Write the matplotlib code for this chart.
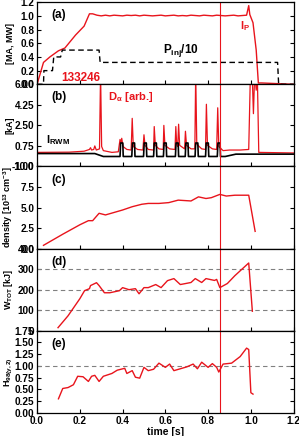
import numpy as np
import matplotlib
matplotlib.use("Agg")
import matplotlib.pyplot as plt

plt.rcParams["font.family"] = ["Liberation Sans", "DejaVu Sans"]
plt.rcParams["font.weight"] = "bold"
plt.rcParams["mathtext.fontset"] = "custom"
plt.rcParams["mathtext.rm"] = "Liberation Sans:bold"
plt.rcParams["mathtext.it"] = "Liberation Sans:bold:italic"
plt.rcParams["mathtext.bf"] = "Liberation Sans:bold"
plt.rcParams["mathtext.default"] = "bf"

RED = "#e8141c"
T_MARK = 0.855

# (a) plasma current and injected power / 10
ip_t = [0.0, 0.03, 0.06, 0.10, 0.13, 0.18, 0.22, 0.245, 0.26, 0.28, 0.30, 0.32,
        0.34, 0.36, 0.38, 0.40, 0.42, 0.44, 0.46, 0.48, 0.50, 0.52, 0.54, 0.56,
        0.58, 0.60, 0.62, 0.64, 0.66, 0.68, 0.70, 0.72, 0.74, 0.76, 0.78, 0.80,
        0.82, 0.84, 0.86, 0.88, 0.90, 0.92, 0.94, 0.96, 0.98, 0.99, 0.995, 1.01,
        1.025, 1.035, 1.05, 1.2]
ip_v = [0.0, 0.32, 0.40, 0.49, 0.53, 0.72, 0.85, 1.03, 1.03, 1.01, 1.0, 1.01,
        1.0, 1.01, 1.005, 1.0, 1.01, 1.005, 1.01, 1.0, 1.01, 1.005, 1.0, 1.005,
        1.01, 1.0, 1.005, 1.01, 1.0, 1.005, 1.0, 1.01, 1.005, 1.0, 1.01, 1.005,
        1.0, 1.01, 1.005, 1.0, 1.005, 1.01, 1.0, 1.005, 1.01, 1.15, 1.02, 0.90,
        0.50, 0.02, 0.02, 0.0]
pinj_t = [0.0, 0.03, 0.032, 0.072, 0.078, 0.11, 0.118, 0.29, 0.295, 1.125, 1.13, 1.2]
pinj_v = [0.0, 0.0, 0.2, 0.2, 0.4, 0.4, 0.5, 0.5, 0.32, 0.32, 0.0, 0.0]

# (b) D-alpha and RWM coil current
da_t = [0.0, 0.15, 0.22, 0.245, 0.25, 0.255, 0.265, 0.27, 0.277, 0.292, 0.297,
        0.302, 0.31, 0.35, 0.38, 0.388, 0.392, 0.396, 0.402, 0.42, 0.44, 0.445,
        0.45, 0.47, 0.495, 0.5, 0.505, 0.52, 0.545, 0.548, 0.553, 0.57, 0.59,
        0.593, 0.598, 0.62, 0.645, 0.649, 0.653, 0.658, 0.662, 0.667, 0.69,
        0.694, 0.699, 0.72, 0.738, 0.742, 0.747, 0.77, 0.788, 0.792, 0.797,
        0.82, 0.84, 0.845, 0.85, 0.87, 0.9, 0.95, 0.99, 0.998, 1.006, 1.012,
        1.018, 1.025, 1.03, 1.037, 1.2]
da_v = [0.2, 0.22, 0.3, 0.45, 0.6, 0.4, 0.45, 0.75, 0.4, 0.5, 7.0,
        0.7, 0.35, 0.2, 0.25, 1.3, 1.0, 1.4, 0.7, 0.45, 0.4, 3.1,
        0.7, 0.45, 0.4, 1.7, 0.8, 0.45, 0.4, 2.4, 0.8, 0.5, 0.45,
        2.5, 0.8, 0.5, 0.45, 2.4, 0.9, 0.7, 2.6, 0.8, 0.5,
        2.0, 0.8, 0.5, 0.5, 7.0, 0.9, 0.5, 0.45, 4.3, 0.8,
        0.5, 0.45, 4.0, 0.7, 0.35, 0.4, 0.4, 0.45, 7.0, 7.0, 3.5,
        7.0, 5.5, 7.0, 0.2, 0.15]
rwm_t = [0.0, 0.27, 0.31,
         0.388, 0.391, 0.401, 0.403,
         0.443, 0.446, 0.456, 0.458,
         0.498, 0.501, 0.511, 0.513,
         0.545, 0.548, 0.558, 0.560,
         0.591, 0.594, 0.604, 0.606,
         0.647, 0.650, 0.660, 0.662,
         0.693, 0.696, 0.706, 0.708,
         0.739, 0.742, 0.752, 0.754,
         0.788, 0.791, 0.801, 0.803,
         0.843, 0.846, 0.856, 0.858,
         0.88, 0.93, 1.2]
rwm_v = [0.1, 0.1, -0.15,
         -0.15, 1.0, 1.0, -0.15,
         -0.15, 1.0, 1.0, -0.15,
         -0.15, 1.0, 1.0, -0.15,
         -0.15, 1.0, 1.0, -0.15,
         -0.15, 1.0, 1.0, -0.15,
         -0.15, 1.0, 1.0, -0.15,
         -0.15, 1.0, 1.0, -0.15,
         -0.15, 1.0, 1.0, -0.15,
         -0.15, 1.0, 1.0, -0.15,
         -0.15, 1.0, 1.0, -0.15,
         -0.15, 0.05, 0.05]

# (c) density
ne_t = [0.03, 0.12, 0.2, 0.24, 0.26, 0.29, 0.32, 0.4, 0.445, 0.49, 0.52, 0.57,
        0.616, 0.66, 0.72, 0.755, 0.79, 0.815, 0.855, 0.885, 0.925, 0.99, 1.02]
ne_v = [0.4, 1.75, 2.9, 3.4, 3.4, 4.3, 4.1, 4.7, 5.1, 5.4, 5.5, 5.5,
        5.6, 5.9, 5.8, 6.3, 6.1, 6.2, 6.6, 6.4, 6.5, 6.5, 2.1]

# (d) stored energy
w_t = [0.098, 0.145, 0.2, 0.222, 0.245, 0.25, 0.278, 0.29, 0.315, 0.34, 0.385,
       0.4, 0.43, 0.46, 0.477, 0.5, 0.52, 0.555, 0.58, 0.61, 0.64, 0.67, 0.72,
       0.74, 0.77, 0.79, 0.83, 0.84, 0.855, 0.89, 0.925, 0.99, 1.007]
w_v = [15, 73, 156, 195, 205, 220, 234, 220, 185, 185, 195,
       210, 200, 205, 180, 210, 210, 225, 210, 244, 254, 225, 235,
       254, 235, 254, 245, 250, 210, 230, 268, 330, 95]

# (e) confinement factor
h_t = [0.1, 0.12, 0.145, 0.17, 0.19, 0.215, 0.24, 0.255, 0.27, 0.29, 0.31,
       0.35, 0.375, 0.41, 0.42, 0.445, 0.46, 0.48, 0.5, 0.52, 0.545, 0.57,
       0.6, 0.62, 0.64, 0.67, 0.7, 0.73, 0.75, 0.77, 0.8, 0.82, 0.84, 0.85,
       0.87, 0.91, 0.95, 0.98, 0.99, 1.0, 1.01]
h_v = [0.3, 0.52, 0.54, 0.6, 0.78, 0.77, 0.67, 0.78, 0.8, 0.67, 0.78,
       0.84, 0.91, 0.95, 0.84, 0.9, 0.76, 0.74, 0.97, 0.9, 0.93, 1.06,
       0.97, 1.04, 0.9, 0.94, 0.98, 1.04, 0.94, 1.08, 0.97, 1.05, 0.97, 0.87,
       1.04, 1.06, 1.2, 1.38, 1.35, 0.43, 0.4]


def style_axis(ax, ylim, yticks, ylabel):
    ax.set_xlim(0, 1.2)
    ax.set_ylim(*ylim)
    ax.set_yticks(yticks)
    ax.set_xticks([0.0, 0.2, 0.4, 0.6, 0.8, 1.0, 1.2])
    ax.tick_params(direction="in", right=True, length=3, width=0.8,
                   labelsize=7.2, pad=2)
    for s in ax.spines.values():
        s.set_linewidth(0.9)
    ax.set_ylabel(ylabel, fontsize=6.5, fontweight="bold")
    ax.yaxis.set_label_coords(-0.088, 0.5)
    ax.axvline(T_MARK, color=RED, lw=0.8)


fig, axes = plt.subplots(5, 1, figsize=(2.99, 4.36), dpi=100, sharex=True)
fig.subplots_adjust(left=0.124, right=0.982, top=0.995, bottom=0.053, hspace=0)
ax_a, ax_b, ax_c, ax_d, ax_e = axes

# (a)
ax_a.plot(ip_t, ip_v, color=RED, lw=1.0)
ax_a.plot(pinj_t, pinj_v, color="black", lw=1.0, ls=(0, (4, 2.5)))
style_axis(ax_a, (0, 1.2), [0.0, 0.2, 0.4, 0.6, 0.8, 1.0, 1.2], "[MA, MW]")
ax_a.set_yticklabels(["0.0", "0.2", "0.4", "0.6", "0.8", "1.0", "1.2"])
ax_a.text(0.95, 0.85, r"I$_P$", color=RED, fontsize=8, va="center")
ax_a.text(0.59, 0.49, r"P$_{inj}$/10", color="black", fontsize=8.5, va="center")
ax_a.text(0.115, 0.09, "133246", color=RED, fontsize=8.5, fontweight="bold",
          va="center")

# (b)
ax_b.plot(da_t, da_v, color=RED, lw=0.9)
ax_b.plot(rwm_t, rwm_v, color="black", lw=1.2)
style_axis(ax_b, (-1, 6), [-1.0, 0.75, 2.5, 4.25, 6.0], "[kA]")
ax_b.set_yticklabels(["-1.00", "0.75", "2.50", "4.25", "6.00"])
ax_b.text(0.33, 4.9, r"D$_\alpha$ [arb.]", color=RED, fontsize=8, va="center")
ax_b.text(0.04, 1.25, r"I$_{RWM}$", color="black", fontsize=8, va="center")

# (c)
ax_c.plot(ne_t, ne_v, color=RED, lw=1.0)
style_axis(ax_c, (0, 10), [0.0, 2.5, 5.0, 7.5, 10.0],
           r"density [10$^{13}$ cm$^{-3}$]")
ax_c.set_yticklabels(["0.0", "2.5", "5.0", "7.5", "10.0"])

# (d)
for g in [100, 200, 300]:
    ax_d.axhline(g, color="gray", lw=0.8, ls=(0, (4, 3)))
ax_d.plot(w_t, w_v, color=RED, lw=1.0)
style_axis(ax_d, (0, 400), [0, 100, 200, 300, 400], r"W$_{TOT}$ [kJ]")

# (e)
ax_e.axhline(1.0, color="gray", lw=0.8, ls=(0, (4, 3)))
ax_e.plot(h_t, h_v, color=RED, lw=1.0)
style_axis(ax_e, (0, 1.75), [0.0, 0.25, 0.5, 0.75, 1.0, 1.25, 1.5, 1.75],
           r"H$_{98(y,2)}$")
ax_e.set_yticklabels(["0.00", "0.25", "0.50", "0.75", "1.00", "1.25", "1.50",
                      "1.75"])
ax_e.set_xticklabels(["0.0", "0.2", "0.4", "0.6", "0.8", "1.0", "1.2"])
ax_e.set_xlabel("time [s]", fontsize=7.5, fontweight="bold", labelpad=1)

for ax, lab in zip(axes, ["(a)", "(b)", "(c)", "(d)", "(e)"]):
    ax.text(0.055, 0.84, lab, transform=ax.transAxes, fontsize=8.5,
            fontweight="bold", va="center")

fig.savefig("out.png", dpi=100)
